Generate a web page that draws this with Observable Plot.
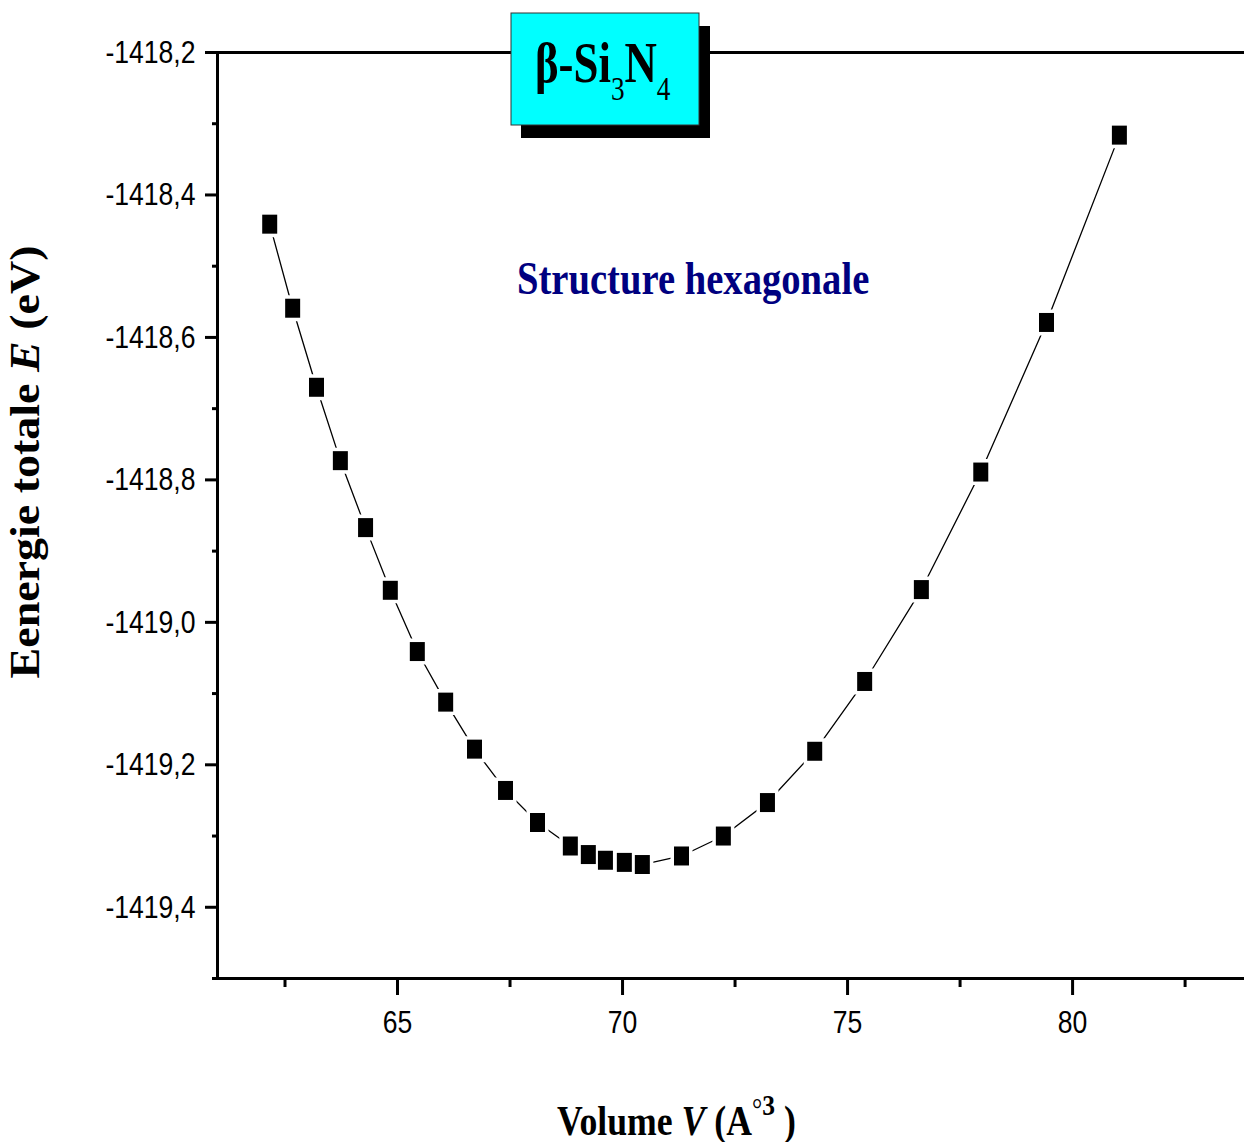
<!DOCTYPE html>
<html>
<head>
<meta charset="utf-8">
<script src="https://cdn.jsdelivr.net/npm/d3@7"></script>
<script src="https://cdn.jsdelivr.net/npm/@observablehq/plot@0.6"></script>
<style>
  html, body { margin: 0; padding: 0; background: #fff; }
  #chart { width: 1244px; height: 1142px; }
</style>
</head>
<body>
<div id="chart"></div>
<script>
// Total energy of β-Si3N4 (hexagonal) versus cell volume
const volume = [62.16, 62.67, 63.20, 63.73, 64.29, 64.84, 65.44, 66.07, 66.71, 67.40,
                68.11, 68.84, 69.24, 69.62, 70.04, 70.44, 71.31, 72.24, 73.22, 74.27,
                75.38, 76.64, 77.96, 79.42, 81.04];
const energy = [-1418.441, -1418.559, -1418.670, -1418.773, -1418.867, -1418.955, -1419.041,
                -1419.112, -1419.178, -1419.236, -1419.281, -1419.314, -1419.326, -1419.334,
                -1419.337, -1419.340, -1419.328, -1419.300, -1419.253, -1419.181, -1419.083,
                -1418.954, -1418.789, -1418.579, -1418.316];

const xMajor = [65, 70, 75, 80];
const xMinor = [62.5, 67.5, 72.5, 77.5, 82.5];
const yMajor = [-1418.2, -1418.4, -1418.6, -1418.8, -1419.0, -1419.2, -1419.4];
const yMinor = [-1418.3, -1418.5, -1418.7, -1418.9, -1419.1, -1419.3, -1419.5];

const points = volume.map((v, i) => ({v, e: energy[i]}));

// filled rectangle marker (slightly taller than wide)
const box = {
  draw(ctx) { ctx.rect(-7.5, -9.5, 15, 19); }
};

const frac = d => d.toFixed(1).replace(".", ",");
const tickFont = '"Liberation Sans", Arial, sans-serif';

const W = 1244, H = 1142, ML = 217, MT = 52, MB = 164;

const plot = Plot.plot({
  width: W,
  height: H,
  marginLeft: ML,
  marginTop: MT,
  marginBottom: MB,
  marginRight: 0,
  x: {domain: [61, 83.82]},
  y: {domain: [-1419.5, -1418.2]},
  style: {fontFamily: tickFont, fontSize: "32px", color: "#000", background: "#fff", overflow: "visible"},
  marks: [
    Plot.axisX({ticks: xMajor, tickSize: 17, tickPadding: 15, strokeWidth: 3, label: null, fontSize: 32}),
    Plot.axisX({ticks: xMinor, tickSize: 9, strokeWidth: 3, tickFormat: () => "", label: null}),
    Plot.axisY({ticks: yMajor, tickSize: 12, tickPadding: 10, strokeWidth: 3, tickFormat: frac, label: null, fontSize: 32}),
    Plot.axisY({ticks: yMinor, tickSize: 5, strokeWidth: 3, tickFormat: () => "", label: null}),
    Plot.ruleX([61], {strokeWidth: 3}),
    Plot.ruleY([-1419.5], {x1: 60.91, x2: 83.82, strokeWidth: 3}),
    Plot.ruleY([-1418.2], {strokeWidth: 3}),
    Plot.line(points, {x: "v", y: "e", stroke: "#000", strokeWidth: 1.3}),
    Plot.dot(points, {x: "v", y: "e", symbol: box, r: 8, fill: "none", stroke: "#fff", strokeWidth: 7}),
    Plot.dot(points, {x: "v", y: "e", symbol: box, r: 8, fill: "#000", stroke: "none"})
  ]
});

document.getElementById("chart").appendChild(plot);

const svg = d3.select(plot);

// narrow the tick labels around their own anchor points
svg.selectAll("text").each(function() {
  const tx = +(this.getAttribute("x") || 0);
  const t = this.getAttribute("transform") || "";
  this.setAttribute("transform", `${t} translate(${tx},0) scale(0.83,1) translate(${-tx},0)`);
});

// annotations: compound name box, axis titles, structure note
const serif = '"Liberation Serif", "Times New Roman", serif';
const ann = svg.append("g").attr("font-family", serif).attr("fill", "#000").attr("text-anchor", "start");

// boxed compound name with drop shadow
ann.append("rect").attr("x", 521).attr("y", 26).attr("width", 189).attr("height", 112).attr("fill", "#000");
ann.append("rect").attr("x", 511).attr("y", 13).attr("width", 188).attr("height", 112)
  .attr("fill", "#00ffff").attr("stroke", "#333").attr("stroke-width", 1);
const name = ann.append("g").attr("transform", "translate(535,82) scale(0.8,1)")
  .append("text").attr("text-anchor", "start").attr("font-size", 56).attr("font-weight", "bold");
name.append("tspan").text("β-Si");
name.append("tspan").attr("font-size", 34).attr("font-weight", "normal").attr("dy", 18).text("3");
name.append("tspan").attr("dy", -18).text("N");
name.append("tspan").attr("font-size", 34).attr("font-weight", "normal").attr("dy", 18).text("4");

// y-axis title
const yt = ann.append("g").attr("transform", "translate(39,462) rotate(-90) scale(1,0.9)")
  .append("text").attr("text-anchor", "middle").attr("font-size", 46).attr("font-weight", "bold");
yt.append("tspan").text("Eenergie totale ");
yt.append("tspan").attr("font-style", "italic").text("E");
yt.append("tspan").text(" (eV)");

// x-axis title
const xt = ann.append("g").attr("transform", "translate(557,1135) scale(0.85,1)")
  .append("text").attr("text-anchor", "start").attr("font-size", 42).attr("font-weight", "bold");
xt.append("tspan").text("Volume ");
xt.append("tspan").attr("font-style", "italic").text("V");
xt.append("tspan").text(" (A");
xt.append("tspan").attr("font-size", 30).attr("font-weight", "normal").attr("dy", -16).text("°");
xt.append("tspan").attr("font-size", 30).attr("dy", -4).text("3");
xt.append("tspan").attr("dy", 20).text(" )");

// structure note inside the plot area
ann.append("g").attr("transform", "translate(517,294) scale(0.84,1)")
  .append("text").attr("text-anchor", "start").attr("font-size", 46).attr("font-weight", "bold").attr("fill", "#000080")
  .text("Structure hexagonale");
</script>
</body>
</html>
